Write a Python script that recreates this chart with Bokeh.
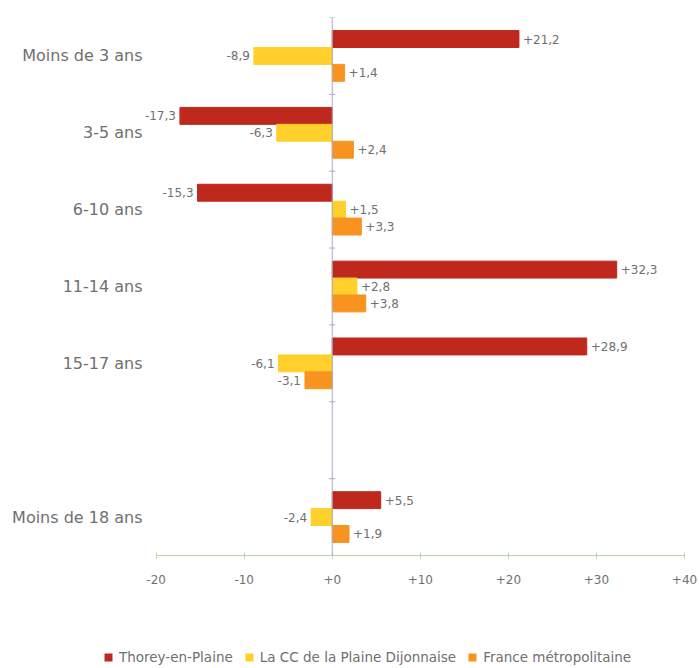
from bokeh.plotting import figure
from bokeh.layouts import column
from bokeh.models import (ColumnDataSource, FactorRange, Span, Legend, LegendItem,
                          FixedTicker)
from bokeh.transform import dodge
from bokeh.embed import file_html
from bokeh.resources import INLINE
from bokeh.core.properties import value

# ---- data ----
categories = ["Moins de 3 ans", "3-5 ans", "6-10 ans", "11-14 ans", "15-17 ans", " ", "Moins de 18 ans"]
bar_categories = ["Moins de 3 ans", "3-5 ans", "6-10 ans", "11-14 ans", "15-17 ans", "Moins de 18 ans"]
thorey = [21.2, -17.3, -15.3, 32.3, 28.9, 5.5]
cc_plaine = [-8.9, -6.3, 1.5, 2.8, -6.1, -2.4]
france = [1.4, 2.4, 3.3, 3.8, -3.1, 1.9]
series_names = ["Thorey-en-Plaine", "La CC de la Plaine Dijonnaise", "France métropolitaine"]
series_colors = ["#BF281C", "#FFCF2B", "#F7931E"]
x_ticks = [-20, -10, 0, 10, 20, 30, 40]
x_tick_labels = ["-20", "-10", "+0", "+10", "+20", "+30", "+40"]

FONT = "DejaVu Sans"
GREY = "#707070"


def fmt(v):
    return f"{v:+.1f}".replace(".", ",")


p = figure(width=699, height=640, output_backend="svg", toolbar_location=None,
           y_range=FactorRange(factors=list(reversed(categories))),
           x_range=(-26.32, 40))
p.min_border = 0
p.min_border_left = 100
p.min_border_right = 15
p.min_border_top = 17
p.min_border_bottom = 85
p.outline_line_color = None
p.xgrid.grid_line_color = None
p.ygrid.grid_line_color = None

# zero line
p.add_layout(Span(location=0, dimension="height", line_color="#A3AEC4", line_width=1))
p.scatter(x="z", y=dodge("c", 0.5, range=p.y_range),
          source=ColumnDataSource(dict(c=categories, z=[0] * len(categories))),
          marker="dash", size=6, line_color="#A3AEC4")

offsets = [0.22, 0.0, -0.22]
for name, vals, col, off in zip(series_names, [thorey, cc_plaine, france], series_colors, offsets):
    src = ColumnDataSource(dict(
        cat=bar_categories, val=vals,
        lab=[fmt(v) for v in vals],
        align=["left" if v >= 0 else "right" for v in vals],
        xo=[4 if v >= 0 else -4 for v in vals],
    ))
    p.hbar(y=dodge("cat", off, range=p.y_range), left=0, right="val", height=0.22,
           source=src, fill_color=col, line_color=col)
    p.text(x="val", y=dodge("cat", off, range=p.y_range), text="lab", source=src,
           text_align="align", x_offset="xo", text_baseline="middle",
           text_font=value(FONT), text_font_size="12px", text_color=GREY)

# axes
p.xaxis.ticker = FixedTicker(ticks=x_ticks)
p.xaxis.bounds = (-20, 40)
p.xaxis.major_label_overrides = {t: l for t, l in zip(x_ticks, x_tick_labels)}
p.xaxis.axis_line_color = "#B9D4A6"
p.xaxis.major_tick_line_color = "#B9D4A6"
p.xaxis.major_tick_in = 3
p.xaxis.major_tick_out = 3
p.xaxis.minor_tick_line_color = None
p.xaxis.major_label_standoff = 16
p.xaxis.major_label_text_font = FONT
p.xaxis.major_label_text_font_size = "12px"
p.xaxis.major_label_text_color = GREY

p.yaxis.axis_line_color = None
p.yaxis.major_tick_line_color = None
p.yaxis.major_tick_in = 0
p.yaxis.major_tick_out = 0
p.yaxis.minor_tick_line_color = None
p.yaxis.major_label_standoff = -42
p.yaxis.major_label_text_font = FONT
p.yaxis.major_label_text_font_size = "16px"
p.yaxis.major_label_text_color = GREY

# legend strip (frame aligned with the chart's frame)
lg = figure(width=699, height=28, output_backend="svg", toolbar_location=None,
            x_range=(0, 1), y_range=(0, 1), x_axis_location=None, y_axis_location=None)
lg.min_border = 0
lg.outline_line_color = None
lg.xgrid.grid_line_color = None
lg.ygrid.grid_line_color = None
leg_renderers = [lg.quad(left=[0], right=[0], top=[0], bottom=[0], fill_color=c, line_color=None)
                 for c in series_colors]
legend = Legend(items=[LegendItem(label=n, renderers=[r]) for n, r in zip(series_names, leg_renderers)],
                orientation="horizontal", location=(3, 3),
                glyph_width=10, glyph_height=10, label_standoff=6, spacing=11,
                padding=0, margin=0, border_line_color=None, background_fill_alpha=0,
                label_text_font=FONT, label_text_font_size="13.5px", label_text_color=GREY,
                label_height=14)
lg.add_layout(legend, "center")

open("out.html", "w").write(file_html(column(p, lg, spacing=0), INLINE))
